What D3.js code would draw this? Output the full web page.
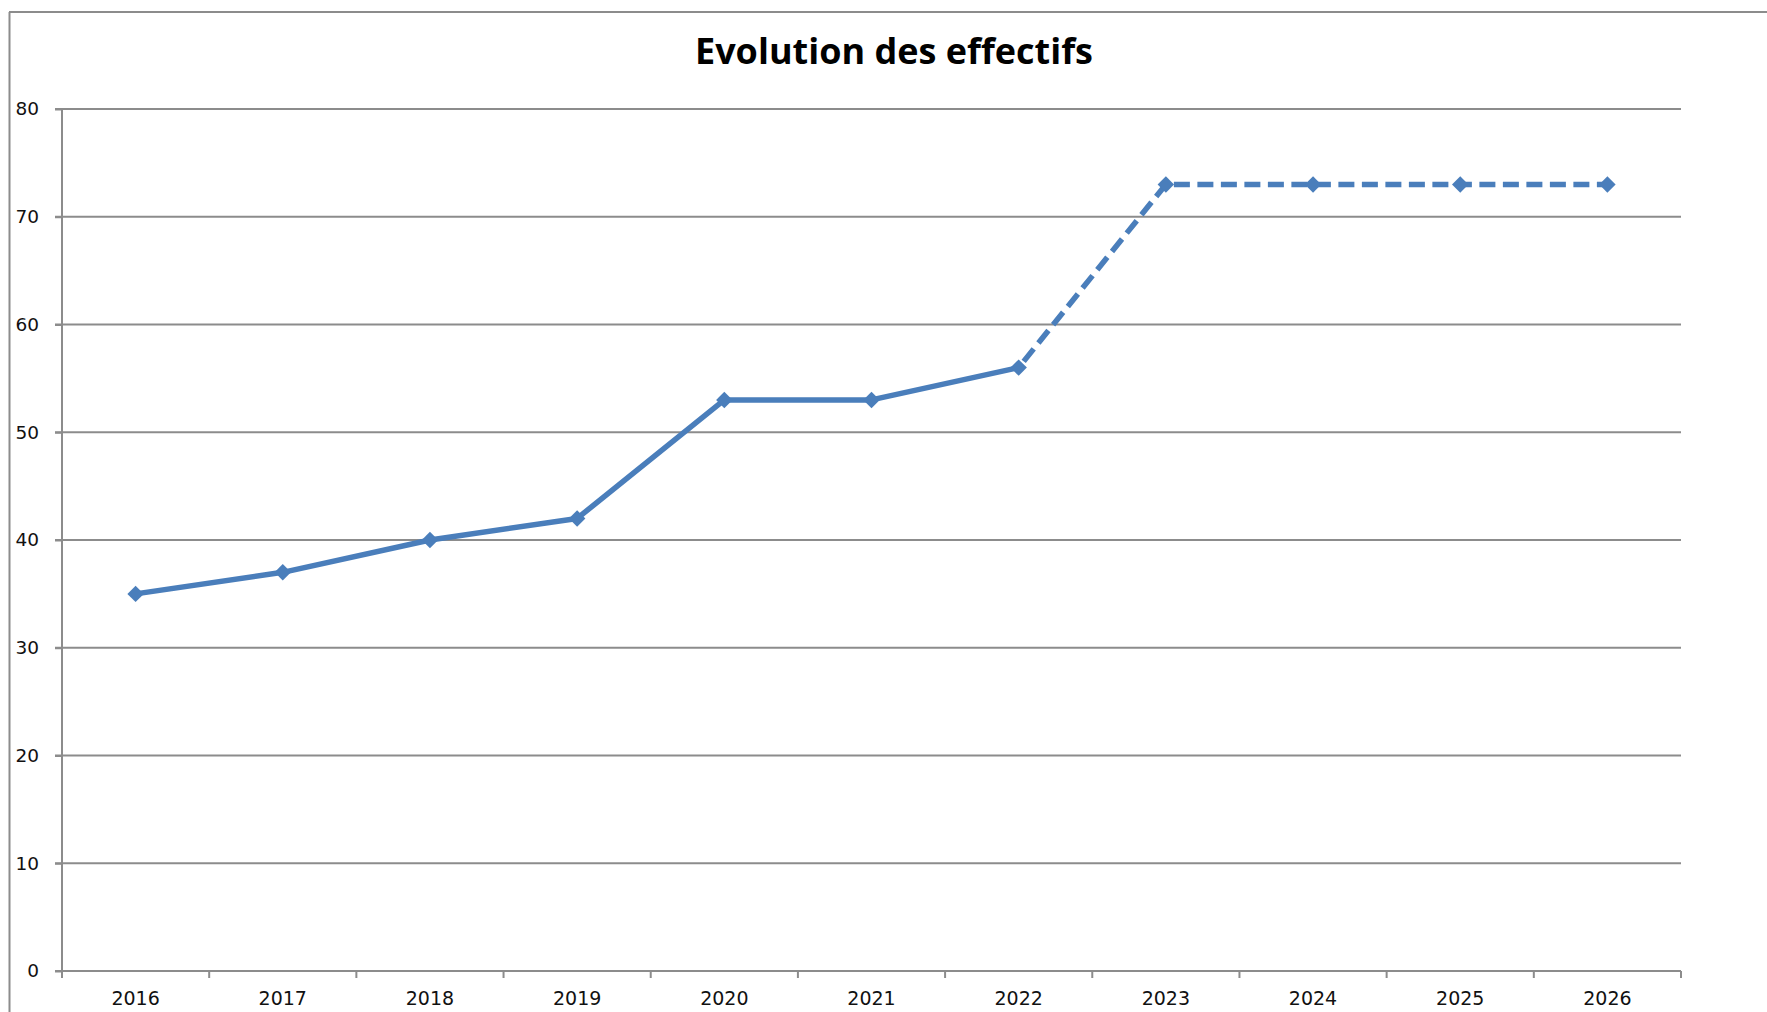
<!DOCTYPE html>
<html><head><meta charset="utf-8">
<script src="https://cdn.jsdelivr.net/npm/d3@7"></script>
<style>body{margin:0;background:#fff}svg{display:block}</style>
</head><body>
<script>
const years = ["2016","2017","2018","2019","2020","2021","2022","2023","2024","2025","2026"];
const effectifs = [35,37,40,42,53,53,56,73,73,73,73];
const lastActualIndex = 6; // up to 2022 solid, after that dashed (projection)
const yTicks = [0,10,20,30,40,50,60,70,80];
const title = "Evolution des effectifs";

(function(){
const W = 1767, H = 1012;
const pL = 62, pR = 1681, pT = 109, pB = 971;
const grey = "#8c8c8c", blue = "#4A7EBB";

const svg = d3.select("body").append("svg").attr("width", W).attr("height", H);

// outer chart border (left + top visible)
svg.append("line").attr("x1",9.5).attr("x2",9.5).attr("y1",12).attr("y2",H).attr("stroke",grey).attr("stroke-width",2);
svg.append("line").attr("x1",9).attr("x2",W).attr("y1",12).attr("y2",12).attr("stroke",grey).attr("stroke-width",2);

const x = d3.scaleBand().domain(years).range([pL,pR]).padding(0);
const y = d3.scaleLinear().domain([0,80]).range([pB,pT]);

// gridlines
svg.append("g").selectAll("line").data(yTicks).join("line")
  .attr("x1",pL-7).attr("x2",pR).attr("y1",d=>y(d)).attr("y2",d=>y(d))
  .attr("stroke",grey).attr("stroke-width",2);

// y axis
const yAxis = d3.axisLeft(y).tickValues(yTicks).tickSize(7).tickPadding(16);
const gy = svg.append("g").attr("transform",`translate(${pL},0)`).call(yAxis);
gy.select(".domain").attr("stroke",grey).attr("stroke-width",2).attr("d",`M0,${pT}V${pB}`);
gy.selectAll(".tick line").attr("stroke",grey).attr("stroke-width",2);
gy.selectAll("text").attr("font-family","DejaVu Sans").attr("font-size",18.5).attr("fill","#111");

// x axis: ticks at category boundaries
const gx = svg.append("g").attr("transform",`translate(0,${pB})`);
gx.append("line").attr("x1",pL).attr("x2",pR).attr("stroke",grey).attr("stroke-width",2);
const bounds = years.map(d=>x(d)).concat([pR]);
gx.selectAll("line.t").data(bounds).join("line").attr("class","t")
  .attr("x1",d=>d).attr("x2",d=>d).attr("y1",0).attr("y2",7).attr("stroke",grey).attr("stroke-width",2);
gx.selectAll("text").data(years).join("text")
  .attr("x",d=>x(d)+x.bandwidth()/2).attr("y",34).attr("text-anchor","middle")
  .attr("font-family","DejaVu Sans").attr("font-size",19).attr("fill","#111").text(d=>d);

// title
svg.append("text").attr("x",894).attr("y",64).attr("text-anchor","middle")
  .attr("font-family","Open Sans").attr("font-weight","bold").attr("font-size",35)
  .attr("textLength",398).attr("lengthAdjust","spacingAndGlyphs")
  .attr("fill","#000").text(title);

const pts = years.map((d,i)=>({year:d,v:effectifs[i],i}));
const line = d3.line().x(d=>x(d.year)+x.bandwidth()/2).y(d=>y(d.v));

svg.append("path").datum(pts.slice(0,lastActualIndex+1)).attr("d",line)
  .attr("fill","none").attr("stroke",blue).attr("stroke-width",5.5).attr("stroke-linejoin","round");
svg.append("path").datum(pts.slice(lastActualIndex)).attr("d",line)
  .attr("fill","none").attr("stroke",blue).attr("stroke-width",5.5).attr("stroke-dasharray","16,7.5").attr("stroke-dashoffset",-8);

svg.append("g").selectAll("path").data(pts).join("path")
  .attr("d",d3.symbol(d3.symbolSquare,135)())
  .attr("transform",d=>`translate(${x(d.year)+x.bandwidth()/2},${y(d.v)}) rotate(45)`)
  .attr("fill",blue);
})();
</script>
</body></html>
